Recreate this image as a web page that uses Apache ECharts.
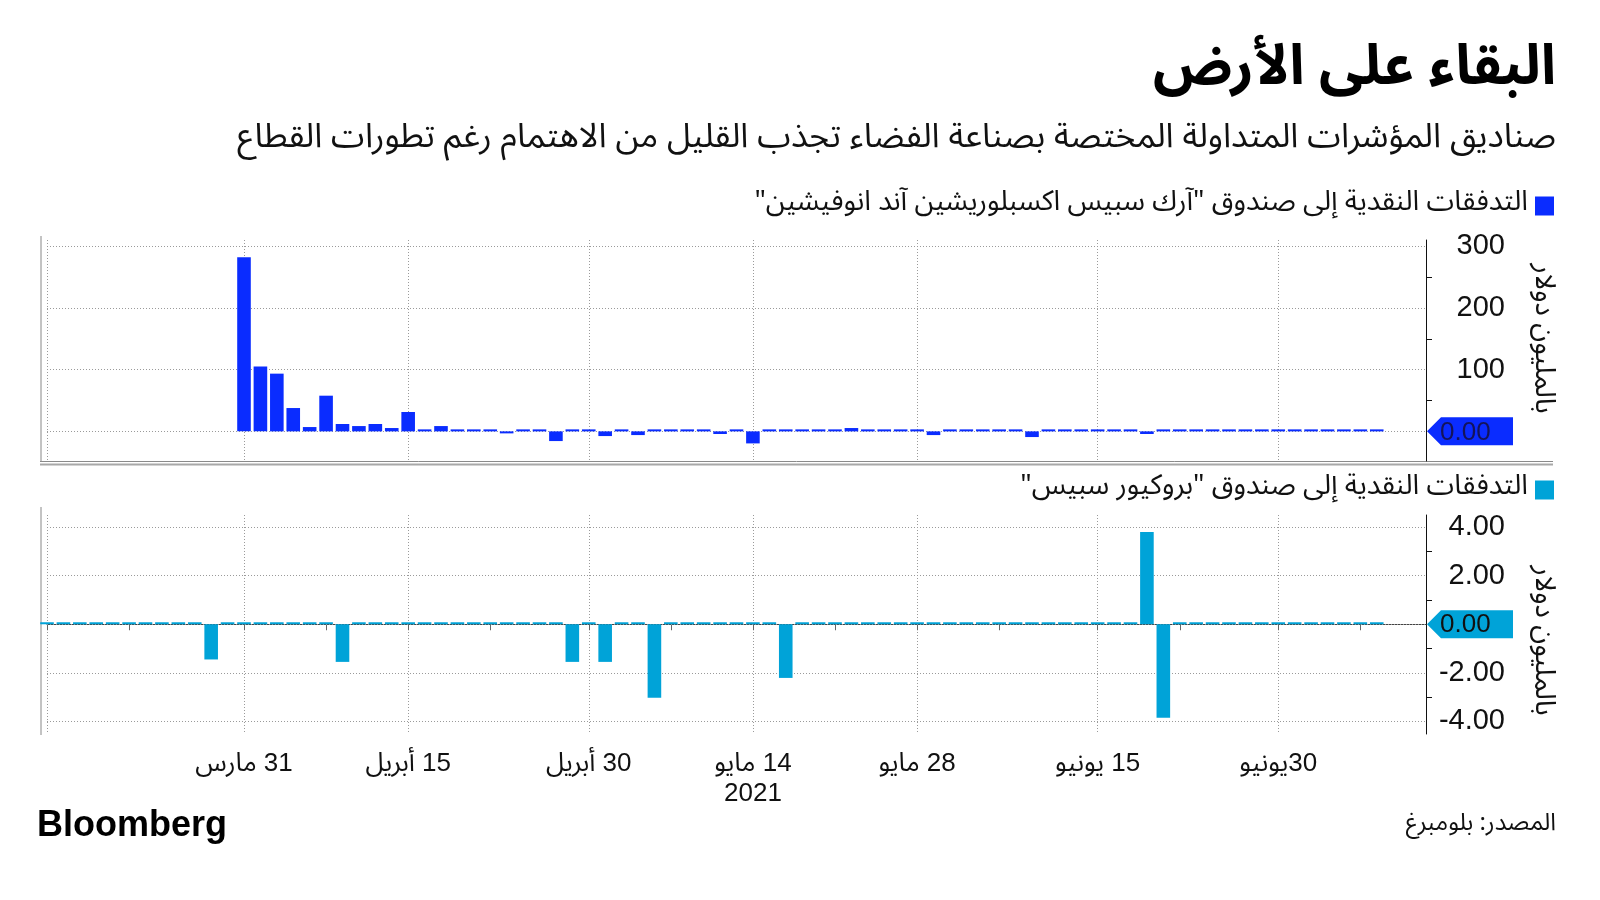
<!DOCTYPE html>
<html><head><meta charset="utf-8">
<script src="https://cdn.jsdelivr.net/npm/echarts@6/dist/echarts.min.js"></script>
<style>html,body{margin:0;padding:0;background:#fff}#c{width:1600px;height:900px}</style>
</head><body><div id="c"></div>
<script>
// ---------- data ----------
const categories = [
 '2021-03-15','2021-03-16','2021-03-17','2021-03-18','2021-03-19','2021-03-22','2021-03-23','2021-03-24','2021-03-25','2021-03-26','2021-03-29','2021-03-30',
 '2021-03-31','2021-04-01','2021-04-05','2021-04-06','2021-04-07','2021-04-08','2021-04-09','2021-04-12','2021-04-13','2021-04-14','2021-04-15',
 '2021-04-16','2021-04-19','2021-04-20','2021-04-21','2021-04-22','2021-04-23','2021-04-26','2021-04-27','2021-04-28','2021-04-29','2021-04-30',
 '2021-05-03','2021-05-04','2021-05-05','2021-05-06','2021-05-07','2021-05-10','2021-05-11','2021-05-12','2021-05-13','2021-05-14',
 '2021-05-17','2021-05-18','2021-05-19','2021-05-20','2021-05-21','2021-05-24','2021-05-25','2021-05-26','2021-05-27','2021-05-28',
 '2021-06-01','2021-06-02','2021-06-03','2021-06-04','2021-06-07','2021-06-08','2021-06-09','2021-06-10','2021-06-11','2021-06-14','2021-06-15',
 '2021-06-16','2021-06-17','2021-06-18','2021-06-21','2021-06-22','2021-06-23','2021-06-24','2021-06-25','2021-06-28','2021-06-29','2021-06-30',
 '2021-07-01','2021-07-02','2021-07-06','2021-07-07','2021-07-08','2021-07-09','2021-07-12','2021-07-13','2021-07-14'
];
// ARKX flows, million USD (one per category)
const arkxFlows = [
 null,null,null,null,null,null,null,null,null,null,null,null,
 282,105,93.5,37.8,7,57.8,11.9,8.6,11.9,5.4,31.4,
 2.2,8.6,1.5,0,0,-2.7,0,0,-15.7,0,0,
 -7.6,0,-6,0,0,0,0,-4.3,0,-19.5,
 0,0,0,0,0,5.4,0,0,0,0,
 -6,0,0,0,0,0,-9.2,0,0,0,0,
 0,0,-4.3,0,0,0,0,0,0,0,0,
 0,0,0,0,0,0,null,null,null
];
// UFO flows, million USD (one per category)
const ufoFlows = [
 0,0,0,0,0,0,0,0,0,0,-1.45,0,
 0,0,0,0,0,0,-1.55,0,0,0,0,
 0,0,0,0,0,0,0,0,0,-1.55,0,
 -1.55,0,0,-3.03,0,0,0,0,0,0,
 0,-2.21,0,0,0,0,0,0,0,0,
 0,0,0,0,0,0,0,0,0,0,0,
 0,0,3.8,-3.85,0,0,0,0,0,0,0,
 0,0,0,0,0,0,null,null,null
];
const gridlineDates = ['2021-03-15','2021-03-31','2021-04-15','2021-04-30','2021-05-14','2021-05-28','2021-06-15','2021-06-30'];
const tickDates = ['2021-03-15','2021-03-22','2021-03-31','2021-04-08','2021-04-15','2021-04-22','2021-04-30','2021-05-07','2021-05-14','2021-05-21','2021-05-28','2021-06-07','2021-06-15','2021-06-22','2021-06-30','2021-07-08'];
const xLabelDates = ['2021-03-31','2021-04-15','2021-04-30','2021-05-14','2021-05-28','2021-06-15','2021-06-30'];
const xLabelTexts = ['31 مارس','15 أبريل','30 أبريل','14 مايو\n2021','28 مايو','15 يونيو','30يونيو'];
const topLabelValues = [100,200,300];
const topMinorTicks = [50,150,250];
const topGridValues = [0,100,200,300];
const botLabelValues = [-4,-2,2,4];
const botMinorTicks = [-3,-1,1,3];
const botGridValues = [-4,-2,0,2,4];

const titleText = 'البقاء على الأرض';
const subtitleText = 'صناديق المؤشرات المتداولة المختصة بصناعة الفضاء تجذب القليل من الاهتمام رغم تطورات القطاع';
const seriesNames = ['التدفقات النقدية إلى صندوق "آرك سبيس اكسبلوريشين آند انوفيشين"', 'التدفقات النقدية إلى صندوق "بروكيور سبيس"'];
const yName = 'بالمليون دولار';
const sourceText = 'المصدر: بلومبرغ';

// ---------- styling ----------
const rtl = s => '\u202B' + s + '\u202C';
const AR = "'Noto Sans Arabic','DejaVu Sans',sans-serif";
const NUM = "'Liberation Sans','Noto Sans Arabic','DejaVu Sans',sans-serif";
const C1 = '#0a2cff', C2 = '#00a3d8';
const GRID_C = '#9a9a9a';

const chart = echarts.init(document.getElementById('c'), null, {renderer:'canvas'});

function xAxisBase(gridIndex, showLabels){
  return {
    type:'category', gridIndex, data: categories, boundaryGap:false,
    axisLine:{show: showLabels, lineStyle:{color:'#444', width:1}},
    axisTick:{show: showLabels, length:6, lineStyle:{color:'#666'}, interval:(i,v)=>tickDates.indexOf(v)>=0},
    axisLabel:{show: showLabels, interval:(i,v)=>xLabelDates.indexOf(v)>=0, margin:15, fontSize:26, lineHeight:30,
      color:'#111', fontFamily:NUM,
      formatter:(v)=>{ const k=xLabelDates.indexOf(v); if(k<0) return ''; return xLabelTexts[k].split('\n').map(rtl).join('\n'); }},
    splitLine:{show:true, interval:(i,v)=>gridlineDates.indexOf(v)>=0, lineStyle:{color:GRID_C, type:[1,2], width:1}}
  };
}
function yAxisBase(gridIndex, min, max, labels, minor, fmt, pad){
  return {
    type:'value', gridIndex, position:'right', min, max,
    axisLine:{show:true, lineStyle:{color:'#111', width:1}},
    axisTick:{show:true, customValues:minor, length:6, lineStyle:{color:'#111'}},
    axisLabel:{show:true, customValues:labels, align:'right', margin:79, fontSize:29, color:'#111', fontFamily:NUM, formatter:fmt},
    splitLine:{show:false},
    name: rtl(yName), nameLocation:'middle', nameRotate:-90, nameGap:100,
    nameTextStyle:{fontSize:28, color:'#111', fontFamily:AR, padding:pad}
  };
}
function badge(color, textColor){
  return function(params, api){
    const cs = params.coordSys;
    const y = api.coord([0, 0])[1];
    const x0 = cs.x + cs.width;
    return {type:'group', children:[
      {type:'polygon', shape:{points:[[x0+1,y],[x0+15,y-14],[x0+87,y-14],[x0+87,y+14],[x0+15,y+14]]}, style:{fill:color}},
      {type:'text', style:{text:'0.00', x:x0+14, y:y+1, align:'left', verticalAlign:'middle', fill:textColor, font:"26px 'Liberation Sans', sans-serif"}}
    ]};
  };
}
function gridMarks(vals){
  return {silent:true, z:1, symbol:'none', label:{show:false}, lineStyle:{color:GRID_C, type:[1,2], width:1}, emphasis:{disabled:true},
    data: vals.map(v=>({yAxis:v}))};
}

const option = {
  backgroundColor:'#fff',
  animation:false,
  title:[
    {text: rtl(titleText), right:44, top:48, padding:0, textStyle:{fontSize:56, fontWeight:'bold', color:'#000', fontFamily:AR}},
    {text: rtl(subtitleText), right:44, top:125, padding:0, textStyle:{fontSize:34, fontWeight:'normal', color:'#111', fontFamily:AR}},
    {text:'Bloomberg', left:37, top:808, padding:0, textStyle:{fontSize:36, fontWeight:'bold', color:'#000', fontFamily:"'Liberation Sans',Arial,sans-serif"}},
    {text: rtl(sourceText), right:44, top:814, padding:0, textStyle:{fontSize:24, fontWeight:'normal', color:'#111', fontFamily:AR}}
  ],
  legend:[
    {data:[seriesNames[0]], right:46, top:192, padding:0, icon:'rect', itemWidth:19, itemHeight:19, align:'right', itemGap:10,
      textStyle:{fontSize:28, color:'#111', fontFamily:AR, padding:[0,2,0,0]}, formatter:n=>rtl(n), selectedMode:false},
    {data:[seriesNames[1]], right:46, top:476, padding:0, icon:'rect', itemWidth:19, itemHeight:19, align:'right', itemGap:10,
      textStyle:{fontSize:28, color:'#111', fontFamily:AR, padding:[0,2,0,0]}, formatter:n=>rtl(n), selectedMode:false}
  ],
  grid:[
    {left:47, right:174, top:240, height:221},
    {left:47, right:174, top:515, height:219}
  ],
  xAxis:[xAxisBase(0,false), xAxisBase(1,true)],
  yAxis:[
    yAxisBase(0,-48,310,topLabelValues,topMinorTicks,v=>String(Math.round(v)),[0,24,0,0]),
    yAxisBase(1,-4.52,4.5,botLabelValues,botMinorTicks,v=>v.toFixed(2),[0,0,0,32])
  ],
  series:[
    {name:seriesNames[0], type:'bar', xAxisIndex:0, yAxisIndex:0, data:arkxFlows, barWidth:13.6, barMinHeight:2, z:3,
      itemStyle:{color:C1}, emphasis:{disabled:true}, markLine:gridMarks(topGridValues)},
    {name:seriesNames[1], type:'bar', xAxisIndex:1, yAxisIndex:1, data:ufoFlows, barWidth:13.6, barMinHeight:2, z:3,
      itemStyle:{color:C2}, emphasis:{disabled:true}, markLine:gridMarks(botGridValues)},
    {type:'custom', xAxisIndex:0, yAxisIndex:0, data:[[0,0]], clip:false, z:10, silent:true, renderItem:badge(C1,'#14145a')},
    {type:'custom', xAxisIndex:1, yAxisIndex:1, data:[[0,0]], clip:false, z:10, silent:true, renderItem:badge(C2,'#111')}
  ],
  graphic:[
    {type:'line', shape:{x1:41, y1:236, x2:41, y2:461}, style:{stroke:'#888', lineWidth:1}, silent:true},
    {type:'line', shape:{x1:41, y1:507, x2:41, y2:735}, style:{stroke:'#888', lineWidth:1}, silent:true},
    {type:'line', shape:{x1:40, y1:461.5, x2:1553, y2:461.5}, style:{stroke:'#8a8a8a', lineWidth:1}, silent:true},
    {type:'line', shape:{x1:40, y1:464.5, x2:1553, y2:464.5}, style:{stroke:'#a8a8a8', lineWidth:2}, silent:true}
  ]
};
chart.setOption(option);
</script></body></html>
